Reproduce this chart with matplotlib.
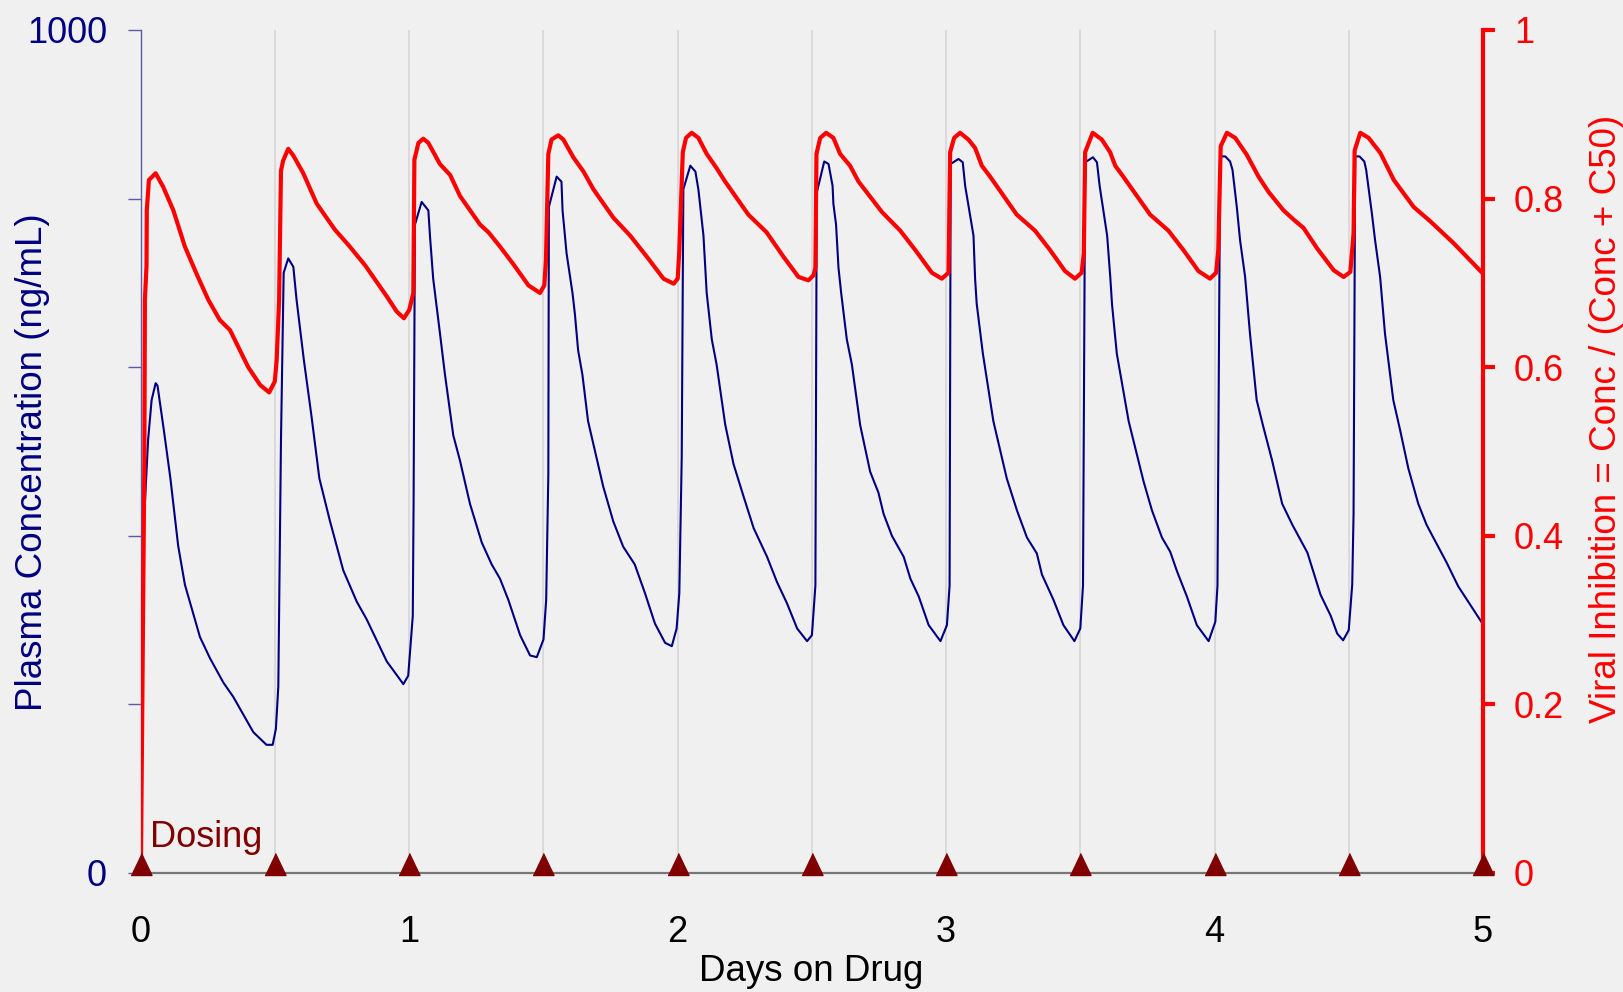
import numpy as np
import matplotlib
matplotlib.use("Agg")
import matplotlib.pyplot as plt

plt.rcParams['font.family'] = ['Liberation Sans', 'DejaVu Sans']

# plasma concentration (ng/mL)
conc_days = [0.000, 0.009, 0.027, 0.040, 0.055, 0.062, 0.087, 0.110, 0.139, 0.164,
             0.220, 0.257, 0.307, 0.344, 0.419, 0.468, 0.491, 0.503, 0.512, 0.522,
             0.532, 0.549, 0.568, 0.580, 0.607, 0.636, 0.665, 0.704, 0.754, 0.804,
             0.841, 0.916, 0.978, 0.996, 1.013, 1.016, 1.021, 1.046, 1.071, 1.077,
             1.089, 1.112, 1.133, 1.164, 1.189, 1.226, 1.270, 1.307, 1.338, 1.369,
             1.413, 1.450, 1.475, 1.500, 1.510, 1.518, 1.520, 1.549, 1.567, 1.571,
             1.586, 1.608, 1.617, 1.629, 1.645, 1.666, 1.685, 1.722, 1.760, 1.797,
             1.840, 1.878, 1.915, 1.953, 1.978, 1.996, 2.006, 2.015, 2.021, 2.047,
             2.066, 2.077, 2.096, 2.108, 2.127, 2.145, 2.177, 2.208, 2.245, 2.283,
             2.333, 2.370, 2.407, 2.445, 2.482, 2.500, 2.513, 2.518, 2.546, 2.562,
             2.577, 2.580, 2.590, 2.599, 2.609, 2.630, 2.649, 2.680, 2.717, 2.748,
             2.767, 2.798, 2.842, 2.867, 2.898, 2.935, 2.979, 3.003, 3.013, 3.017,
             3.046, 3.062, 3.071, 3.102, 3.108, 3.114, 3.137, 3.176, 3.226, 3.264,
             3.301, 3.338, 3.357, 3.400, 3.437, 3.478, 3.500, 3.510, 3.518, 3.547,
             3.562, 3.572, 3.600, 3.612, 3.618, 3.636, 3.680, 3.736, 3.767, 3.804,
             3.835, 3.860, 3.897, 3.934, 3.978, 4.003, 4.011, 4.021, 4.040, 4.058,
             4.067, 4.083, 4.095, 4.114, 4.132, 4.157, 4.182, 4.214, 4.252, 4.290,
             4.346, 4.395, 4.433, 4.457, 4.479, 4.500, 4.513, 4.518, 4.524, 4.540,
             4.558, 4.565, 4.586, 4.598, 4.617, 4.635, 4.666, 4.691, 4.722, 4.759,
             4.790, 4.865, 4.908, 5.000]
conc_ngml = [0, 401, 514, 561, 581, 578, 522, 468, 388, 342,
             280, 255, 226, 209, 167, 152, 152, 171, 221, 514,
             712, 729, 719, 680, 609, 541, 468, 418, 359, 322,
             301, 251, 224, 234, 305, 438, 769, 796, 786, 756,
             705, 646, 591, 519, 489, 438, 392, 366, 349, 324,
             282, 258, 256, 277, 324, 472, 790, 826, 820, 786,
             735, 688, 663, 620, 591, 536, 510, 459, 417, 387,
             366, 332, 296, 273, 269, 290, 332, 493, 811, 839,
             832, 811, 756, 688, 633, 603, 532, 485, 447, 409,
             375, 345, 320, 290, 275, 282, 341, 807, 844, 841,
             815, 794, 769, 718, 688, 633, 603, 531, 476, 451,
             426, 400, 375, 349, 328, 294, 275, 294, 341, 841,
             847, 843, 815, 756, 705, 675, 616, 536, 468, 430,
             398, 379, 354, 324, 294, 275, 290, 341, 843, 849,
             843, 815, 756, 705, 675, 616, 536, 464, 430, 398,
             381, 358, 328, 294, 275, 298, 341, 850, 850, 844,
             834, 790, 751, 707, 640, 561, 529, 490, 438, 413,
             380, 330, 305, 284, 276, 288, 342, 426, 850, 850,
             844, 834, 783, 751, 707, 640, 561, 526, 480, 438,
             413, 368, 340, 295]

# viral inhibition fraction
inhib_days = [0.000, 0.013, 0.015, 0.021, 0.022, 0.030, 0.055, 0.083, 0.121, 0.164,
              0.207, 0.251, 0.294, 0.332, 0.369, 0.400, 0.444, 0.478, 0.499, 0.506,
              0.515, 0.522, 0.530, 0.549, 0.568, 0.605, 0.655, 0.723, 0.773, 0.835,
              0.916, 0.953, 0.980, 1.000, 1.015, 1.019, 1.034, 1.052, 1.071, 1.114,
              1.152, 1.189, 1.264, 1.295, 1.338, 1.388, 1.444, 1.487, 1.503, 1.509,
              1.518, 1.530, 1.555, 1.574, 1.611, 1.649, 1.686, 1.761, 1.823, 1.885,
              1.947, 1.985, 2.000, 2.006, 2.019, 2.031, 2.052, 2.077, 2.108, 2.145,
              2.177, 2.263, 2.331, 2.394, 2.450, 2.487, 2.506, 2.513, 2.517, 2.531,
              2.553, 2.580, 2.605, 2.642, 2.674, 2.761, 2.829, 2.885, 2.947, 2.984,
              3.009, 3.015, 3.030, 3.052, 3.083, 3.108, 3.133, 3.164, 3.263, 3.331,
              3.387, 3.443, 3.480, 3.505, 3.513, 3.518, 3.546, 3.580, 3.611, 3.630,
              3.660, 3.760, 3.828, 3.884, 3.940, 3.983, 4.006, 4.014, 4.023, 4.046,
              4.077, 4.120, 4.164, 4.201, 4.257, 4.295, 4.332, 4.382, 4.444, 4.481,
              4.506, 4.518, 4.522, 4.543, 4.574, 4.618, 4.668, 4.742, 4.804, 4.891,
              5.000]
inhib_frac = [0.000, 0.490, 0.680, 0.720, 0.786, 0.822, 0.830, 0.814, 0.786, 0.743,
              0.711, 0.680, 0.656, 0.644, 0.620, 0.600, 0.579, 0.570, 0.583, 0.609,
              0.680, 0.833, 0.845, 0.859, 0.851, 0.830, 0.794, 0.763, 0.745, 0.721,
              0.684, 0.666, 0.658, 0.668, 0.688, 0.846, 0.866, 0.871, 0.866, 0.841,
              0.828, 0.803, 0.769, 0.760, 0.743, 0.722, 0.697, 0.688, 0.697, 0.726,
              0.853, 0.870, 0.875, 0.870, 0.849, 0.832, 0.811, 0.777, 0.756, 0.731,
              0.705, 0.699, 0.705, 0.739, 0.855, 0.872, 0.878, 0.872, 0.853, 0.836,
              0.820, 0.781, 0.760, 0.731, 0.707, 0.703, 0.709, 0.718, 0.853, 0.872,
              0.878, 0.872, 0.853, 0.839, 0.820, 0.784, 0.762, 0.739, 0.712, 0.705,
              0.712, 0.855, 0.872, 0.878, 0.870, 0.860, 0.839, 0.826, 0.781, 0.762,
              0.739, 0.714, 0.705, 0.712, 0.735, 0.855, 0.878, 0.870, 0.855, 0.839,
              0.826, 0.781, 0.762, 0.739, 0.714, 0.705, 0.712, 0.739, 0.862, 0.878,
              0.872, 0.852, 0.826, 0.808, 0.786, 0.775, 0.765, 0.741, 0.715, 0.707,
              0.713, 0.759, 0.857, 0.878, 0.872, 0.854, 0.822, 0.790, 0.773, 0.747,
              0.711]

dose_days = [0.0, 0.5, 1.0, 1.5, 2.0, 2.5, 3.0, 3.5, 4.0, 4.5, 5.0]

x_ticks = [0, 0.5, 1, 1.5, 2, 2.5, 3, 3.5, 4, 4.5, 5]
x_ticklabels = ['0', '', '1', '', '2', '', '3', '', '4', '', '5']
left_ticks = [0, 200, 400, 600, 800, 1000]
left_ticklabels = ['0', '', '', '', '', '1000']
right_ticks = [0, 0.2, 0.4, 0.6, 0.8, 1.0]
right_ticklabels = ['0', '0.2', '0.4', '0.6', '0.8', '1']

bg = '#f0f0f0'
navy = '#000080'
axis_blue = '#5a5aa8'
dark_red = '#800000'

fig = plt.figure(figsize=(16.23, 9.92), dpi=100, facecolor=bg)
ax = fig.add_axes([0.0868, 0.12, 0.8269, 0.8498])
ax.set_facecolor(bg)

ax.plot(conc_days, conc_ngml, color=navy, lw=1.5, zorder=3)
ax.set_xlim(0, 5)
ax.set_ylim(0, 1000)

ax.set_xticks(x_ticks)
ax.set_xticklabels(x_ticklabels)
ax.set_yticks(left_ticks)
ax.set_yticklabels(left_ticklabels)
ax.grid(axis='x', color='#d4d4d4', lw=1.1, zorder=0)
ax.set_axisbelow(True)

ax.tick_params(axis='x', length=0, pad=30, labelsize=26, labelcolor='black')
ax.tick_params(axis='y', length=9.4, width=1, color=axis_blue, pad=15,
               labelsize=26, labelcolor=navy)

for s in ['top', 'right']:
    ax.spines[s].set_visible(False)
ax.spines['left'].set_color(axis_blue)
ax.spines['left'].set_linewidth(1)
ax.spines['bottom'].set_color('#777777')
ax.spines['bottom'].set_linewidth(1.6)

ax.set_xlabel('Days on Drug', fontsize=26.5, color='black')
ax.xaxis.set_label_coords(0.4994, -0.117)
ax.xaxis.label.set_va('center')
ax.set_ylabel('Plasma Concentration (ng/mL)', fontsize=26.5, color=navy)
ax.yaxis.set_label_coords(-0.081, 0.4875)
ax.yaxis.label.set_va('center')

ax2 = ax.twinx()
ax2.plot(inhib_days, inhib_frac, color='#ff0000', lw=3.0,
         solid_joinstyle='round', solid_capstyle='round', zorder=3)
ax2.set_ylim(0, 1)
ax2.set_yticks(right_ticks)
ax2.set_yticklabels(right_ticklabels)
ax2.tick_params(axis='y', length=8.6, width=3, color='#ff0000', pad=13.7,
                labelsize=26, labelcolor='#ff0000')
for s in ['top', 'left', 'bottom']:
    ax2.spines[s].set_visible(False)
ax2.spines['right'].set_color('#ff0000')
ax2.spines['right'].set_linewidth(3)
ax2.set_ylabel('Viral Inhibition = Conc / (Conc + C50)', fontsize=26.5,
               color='#ff0000')
ax2.yaxis.set_label_coords(1.0917, 0.5386)
ax2.yaxis.label.set_va('center')

# dosing markers sit on the time axis, base on the axis line
tri = [(-10.5, -2), (10.5, -2), (0, 20)]
ax2.plot(dose_days, np.zeros(len(dose_days)), linestyle='none', marker=tri,
         markersize=28.8, color=dark_red, clip_on=False, zorder=6)
ax2.text(0.035, 0.031, 'Dosing', fontsize=26, color=dark_red, ha='left',
         va='baseline', zorder=6)

fig.savefig('out.png', dpi=100, facecolor=bg)
